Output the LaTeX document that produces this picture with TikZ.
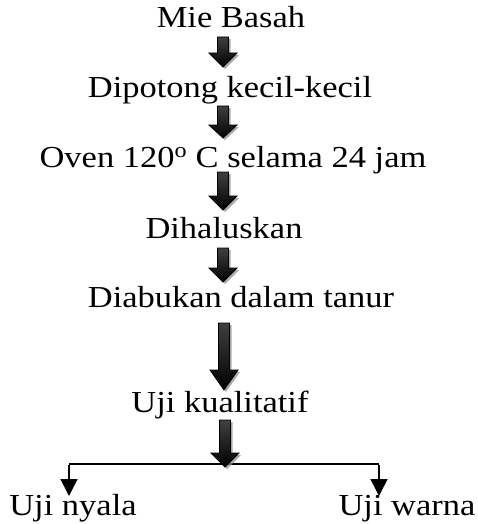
\documentclass[tikz,border=0pt]{standalone}
\usepackage{fontspec}
\setmainfont{Liberation Serif}[FakeStretch=1.13]
\usetikzlibrary{arrows.meta,calc}

% Shaded block arrow from coordinate #1 (top of shaft) to #2 (tip), head length #3
\newcommand\blockarrow[3]{%
  \path[fill=black!45, opacity=.75] let \p1=(#1), \p2=(#2) in
    (\x1-3.5pt,\y1-2pt) -- (\x1+7.5pt,\y1-2pt) -- (\x1+7.5pt,\y2+#3-2pt)
    -- (\x1+16pt,\y2+#3-2pt) -- (\x1+2pt,\y2-2pt) -- (\x1-12pt,\y2+#3-2pt)
    -- (\x1-3.5pt,\y2+#3-2pt) -- cycle;
  \path[arrowbody] let \p1=(#1), \p2=(#2) in
    (\x1-5.5pt,\y1) -- (\x1+5.5pt,\y1) -- (\x1+5.5pt,\y2+#3)
    -- (\x1+14pt,\y2+#3) -- (\x1,\y2) -- (\x1-14pt,\y2+#3)
    -- (\x1-5.5pt,\y2+#3) -- cycle;
}

\begin{document}
\begin{tikzpicture}[x=1pt,y=-1pt,
  steptext/.style={anchor=base, inner sep=0pt, font=\fontsize{30.5}{36}\selectfont},
  arrowbody/.style={draw=black, line width=0.8pt, left color=black!75,
    middle color=black!40, right color=black, shading angle=0},
  branch/.style={draw=black, line width=1.6pt},
  branchtip/.style={branch, -{Triangle[length=17pt,width=17pt]}}]
\useasboundingbox (0,0) rectangle (477,524);

% process steps
\node[steptext] (mie)   at (231,28)  {Mie Basah};
\node[steptext] (potong) at (230,98) {Dipotong kecil-kecil};
\node[steptext] (oven)  at (233,167) {Oven 120\textsuperscript{o} C selama 24 jam};
\node[steptext] (halus) at (224,238) {Dihaluskan};
\node[steptext] (abu)   at (241,307) {Diabukan dalam tanur};
\node[steptext] (uji)   at (220,412) {Uji kualitatif};
\node[steptext] (nyala) at (73,515)  {Uji nyala};
\node[steptext] (warna) at (407,515) {Uji warna};

% arrow end points
\coordinate (a1s) at (223,37);  \coordinate (a1e) at (223,67);
\coordinate (a2s) at (223,106); \coordinate (a2e) at (223,138);
\coordinate (a3s) at (223,172); \coordinate (a3e) at (223,210);
\coordinate (a4s) at (223,248); \coordinate (a4e) at (223,282);
\coordinate (a5s) at (224,323); \coordinate (a5e) at (224,390);
\coordinate (a6s) at (225,420); \coordinate (a6e) at (225,467);

% branching to the two tests
\coordinate (bl) at (69,464);
\coordinate (br) at (379,464);
\coordinate (tl) at (69,496);
\coordinate (tr) at (379,496);
\draw[branch] (bl) -- (br);
\draw[branchtip] ([yshift=-0.8pt]bl) -- (tl);
\draw[branchtip] ([yshift=-0.8pt]br) -- (tr);

\blockarrow{a1s}{a1e}{14pt}
\blockarrow{a2s}{a2e}{13pt}
\blockarrow{a3s}{a3e}{14pt}
\blockarrow{a4s}{a4e}{14pt}
\blockarrow{a5s}{a5e}{20pt}
\blockarrow{a6s}{a6e}{14pt}
\end{tikzpicture}
\end{document}
